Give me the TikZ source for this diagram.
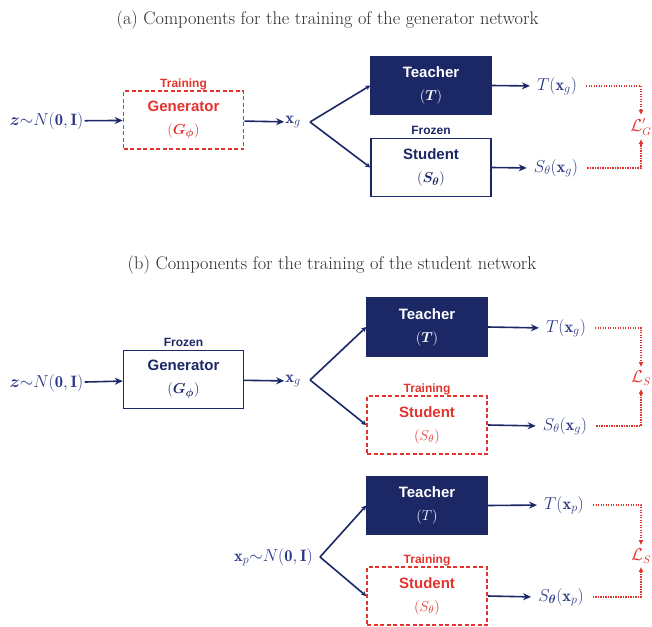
\documentclass[tikz,border=0pt]{standalone}
\usepackage{amsmath}
\usepackage{fontspec}
\newfontfamily\boxfont{Liberation Sans}
\usetikzlibrary{arrows.meta}

\definecolor{navy}{HTML}{1C2766}
\definecolor{navytext}{HTML}{2A3784}
\definecolor{hired}{HTML}{E2332D}
\definecolor{titlegray}{HTML}{2A2A2A}

\tikzset{
  netbox/.style={minimum width=120pt, minimum height=58pt, inner sep=0pt, align=center,
    font=\boxfont\bfseries\fontsize{15}{23}\selectfont, line width=1.4pt},
  teacherbox/.style={netbox, fill=navy, draw=navy, text=white},
  frozenbox/.style={netbox, draw=navy, fill=white, text=navy},
  trainbox/.style={netbox, draw=hired, dash pattern=on 4pt off 2.5pt, text=hired, line width=1.6pt},
  tag/.style={font=\boxfont\bfseries\fontsize{12}{14}\selectfont, inner sep=0pt, anchor=base},
  traintag/.style={tag, text=hired},
  frozentag/.style={tag, text=navy},
  mathlbl/.style={font=\fontsize{16.5}{19}\selectfont, text=navytext, inner sep=1pt},
  losslbl/.style={font=\fontsize{16}{19}\selectfont, text=hired, inner sep=0.5pt},
  flow/.style={draw=navy, line width=1.6pt, -{Stealth[length=8pt,width=7pt]}},
  branch/.style={draw=navy, line width=1.6pt, -{Stealth[length=5pt,width=5pt]}},
  lossflow/.style={draw=hired, line width=1.9pt, dash pattern=on 1.4pt off 1.1pt,
    -{Latex[length=5pt,width=5pt]}},
  caption/.style={font=\fontsize{18.3}{22}\selectfont, text=titlegray, inner sep=0pt}
}

\begin{document}
\begin{tikzpicture}[x=1pt,y=-1pt]
\useasboundingbox (0,0) rectangle (652,626);

% ---------- (a) training of the generator ----------
\node[caption] (capA) at (327.5,20) {(a) Components for the training of the generator network};

\node[mathlbl] (zA) at (46.5,121) {$\boldsymbol{z}\mathord{\sim}N(\mathbf{0},\mathbf{I})$};
\node[trainbox] (genA) at (183.5,120) {Generator\\$(\boldsymbol{G_{\phi}})$};
\node[traintag] (genAtag) at ([yshift=3pt]genA.north) {Training};
\node[mathlbl] (xgA) at (293,122) {$\mathbf{x}_g$};
\coordinate (brA) at (310,122);

\node[teacherbox] (tA) at (431,85.5) {Teacher\\$(\boldsymbol{T})$};
\node[frozenbox] (sA) at (431,167.5) {Student\\$(\boldsymbol{S_{\theta}})$};
\node[frozentag] (sAtag) at ([yshift=3pt]sA.north) {Frozen};

\node[mathlbl] (TA) at (557,86) {$T(\mathbf{x}_g)$};
\node[mathlbl] (SA) at (556,168) {$S_{\theta}(\mathbf{x}_g)$};
\node[losslbl] (LA) at (641,127) {$\mathcal{L}'_G$};

\draw[flow] (zA) -- (genA);
\draw[flow] (genA) -- (xgA);
\draw[branch] (brA) -- (tA.west);
\draw[branch] (brA) -- (sA.west);
\draw[flow, shorten >=6pt] (tA.east) -- (TA.west);
\draw[flow, shorten >=6pt] (sA.east) -- (SA.west);
\draw[lossflow, shorten <=8pt, shorten >=3pt] (TA.east) -| (LA.north);
\draw[lossflow, shorten <=8pt, shorten >=3pt] (SA.east) -| (LA.south);

% ---------- (b) training of the student ----------
\node[caption] (capB) at (332,265) {(b) Components for the training of the student network};

\node[mathlbl] (zB) at (46.5,383) {$\boldsymbol{z}\mathord{\sim}N(\mathbf{0},\mathbf{I})$};
\node[frozenbox] (genB) at (183.5,379.5) {Generator\\$(\boldsymbol{G_{\phi}})$};
\node[frozentag] (genBtag) at ([yshift=3pt]genB.north) {Frozen};
\node[mathlbl] (xgB) at (293,381) {$\mathbf{x}_g$};
\coordinate (brB) at (310,380);

\node[teacherbox] (tB) at (427,327) {Teacher\\$(\boldsymbol{T})$};
\node[trainbox] (sB) at (427,425) {Student\\$(S_{\theta})$};
\node[traintag] (sBtag) at ([yshift=3pt]sB.north) {Training};

\node[mathlbl] (TB) at (566,328) {$T(\mathbf{x}_g)$};
\node[mathlbl] (SB) at (565,426) {$S_{\theta}(\mathbf{x}_g)$};
\node[losslbl] (LB) at (641,378) {$\mathcal{L}_S$};

\draw[flow] (zB) -- (genB);
\draw[flow] (genB) -- (xgB);
\draw[branch] (brB) -- (tB.west);
\draw[branch] (brB) -- (sB.west);
\draw[flow, shorten >=6pt] (tB.east) -- (TB.west);
\draw[flow, shorten >=6pt] (sB.east) -- (SB.west);
\draw[lossflow, shorten <=8pt, shorten >=3pt] (TB.east) -| (LB.north);
\draw[lossflow, shorten <=8pt, shorten >=3pt] (SB.east) -| (LB.south);

% ---------- (b) with sampled inputs x_p ----------
\node[mathlbl] (xp) at (273.5,557) {$\mathbf{x}_p\mathord{\sim}N(\mathbf{0},\mathbf{I})$};
\coordinate (brC) at (320,557);

\node[teacherbox] (tC) at (427,505.5) {Teacher\\$(T)$};
\node[trainbox] (sC) at (427,596) {Student\\$(S_{\theta})$};
\node[traintag] (sCtag) at ([yshift=3pt]sC.north) {Training};

\node[mathlbl] (TC) at (564,505) {$T(\mathbf{x}_p)$};
\node[mathlbl] (SC) at (561,597) {$S_{\boldsymbol{\theta}}(\mathbf{x}_p)$};
\node[losslbl] (LC) at (641,556) {$\mathcal{L}_S$};

\draw[branch] (brC) -- (tC.west);
\draw[branch] (brC) -- (sC.west);
\draw[flow, shorten >=6pt] (tC.east) -- (TC.west);
\draw[flow, shorten >=6pt] (sC.east) -- (SC.west);
\draw[lossflow, shorten <=8pt, shorten >=3pt] (TC.east) -| (LC.north);
\draw[lossflow, shorten <=8pt, shorten >=3pt] (SC.east) -| (LC.south);
\end{tikzpicture}
\end{document}
